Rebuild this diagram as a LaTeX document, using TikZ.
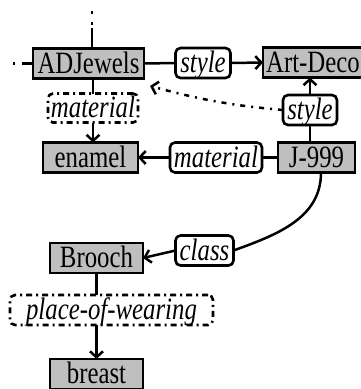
\documentclass[tikz,border=0pt]{standalone}
\usepackage{fontspec}
\setmainfont[FakeStretch=0.8]{Liberation Serif}
\usetikzlibrary{arrows.meta,calc}
\begin{document}
\begin{tikzpicture}[x=1pt,y=-1pt,
  every node/.style={font=\fontsize{31}{36}\selectfont, inner sep=0pt, outer sep=0pt},
  entity/.style={draw, fill=gray!50, line width=2.6pt, minimum height=30pt, text height=24pt, text depth=5pt},
  rel/.style={draw, fill=white, rounded corners=5pt, line width=2.6pt, minimum height=30pt, text height=24pt, text depth=5pt, font=\fontsize{31}{36}\selectfont\itshape},
  relopt/.style={rel, fill=none, dash pattern=on 6pt off 4pt on 2pt off 4pt},
  conn/.style={line width=2.5pt},
  arr/.style={conn, -{Straight Barb[length=6pt,width=13pt,line width=2.5pt]}},
  optarr/.style={arr, dash pattern=on 5pt off 6pt on 2pt off 6pt}
]
\useasboundingbox (0,0) rectangle (361,389);
% entities
\node[entity, minimum width=111pt] (adj) at (88.5,63.5) {ADJewels};
\node[entity, minimum width=100pt] (deco) at (313,62.5) {Art-Deco};
\node[entity, minimum width=95pt] (enamel) at (90.5,157.5) {enamel};
\node[entity, minimum width=77pt] (j) at (316.5,157.5) {J-999};
\node[entity, minimum width=93pt] (brooch) at (96.5,258) {Brooch};
\node[entity, minimum width=93pt] (breast) at (96.5,374) {breast};
% relations
\node[rel, minimum width=55pt] (style1) at (203,63) {style};
\node[relopt, minimum width=90pt, minimum height=27pt] (mat1) at (93,108) {material};
\node[rel, minimum width=92pt] (mat2) at (216,157.5) {material};
\node[rel, minimum width=54pt] (style2) at (310,110) {style};
\node[rel, minimum width=58pt] (cls) at (204.5,250.5) {class};
\node[relopt, minimum width=203pt] (pow) at (111.5,310) {place-of-wearing};
% free ends
\coordinate (top) at (92,11);
\coordinate (left) at (13,63.5);
\coordinate (optend) at (150,86);
% connectors
\draw[conn, dash pattern=on 3pt off 8pt on 3pt off 3pt on 40pt] (top) -- (top |- adj.north);
\draw[conn, dash pattern=on 2pt off 7pt on 30pt] (left) -- (adj.west);
\draw[conn] (adj.east) -- (style1.west);
\draw[arr] (style1.east) -- (deco.west);
\draw[conn] (adj.south -| mat1) -- (mat1.north);
\draw[arr] (mat1.south) -- (mat1.south |- enamel.north);
\draw[conn] (j.north -| style2) -- (style2.south);
\draw[arr] (style2.north) -- (style2.north |- deco.south);
\draw[optarr] (style2.west) to[out=175,in=-15] (optend);
\draw[conn] (j.west) -- (mat2.east);
\draw[arr] (mat2.west) -- (enamel.east);
\draw[conn] ($(j.south)+(4.5,0)$) to[out=-90,in=20] (cls.east);
\draw[arr] (cls.west) -- (brooch.east);
\draw[conn] (brooch.south) -- (brooch.south |- pow.north);
\draw[arr] (brooch.south |- pow.south) -- (breast.north);
\end{tikzpicture}
\end{document}
